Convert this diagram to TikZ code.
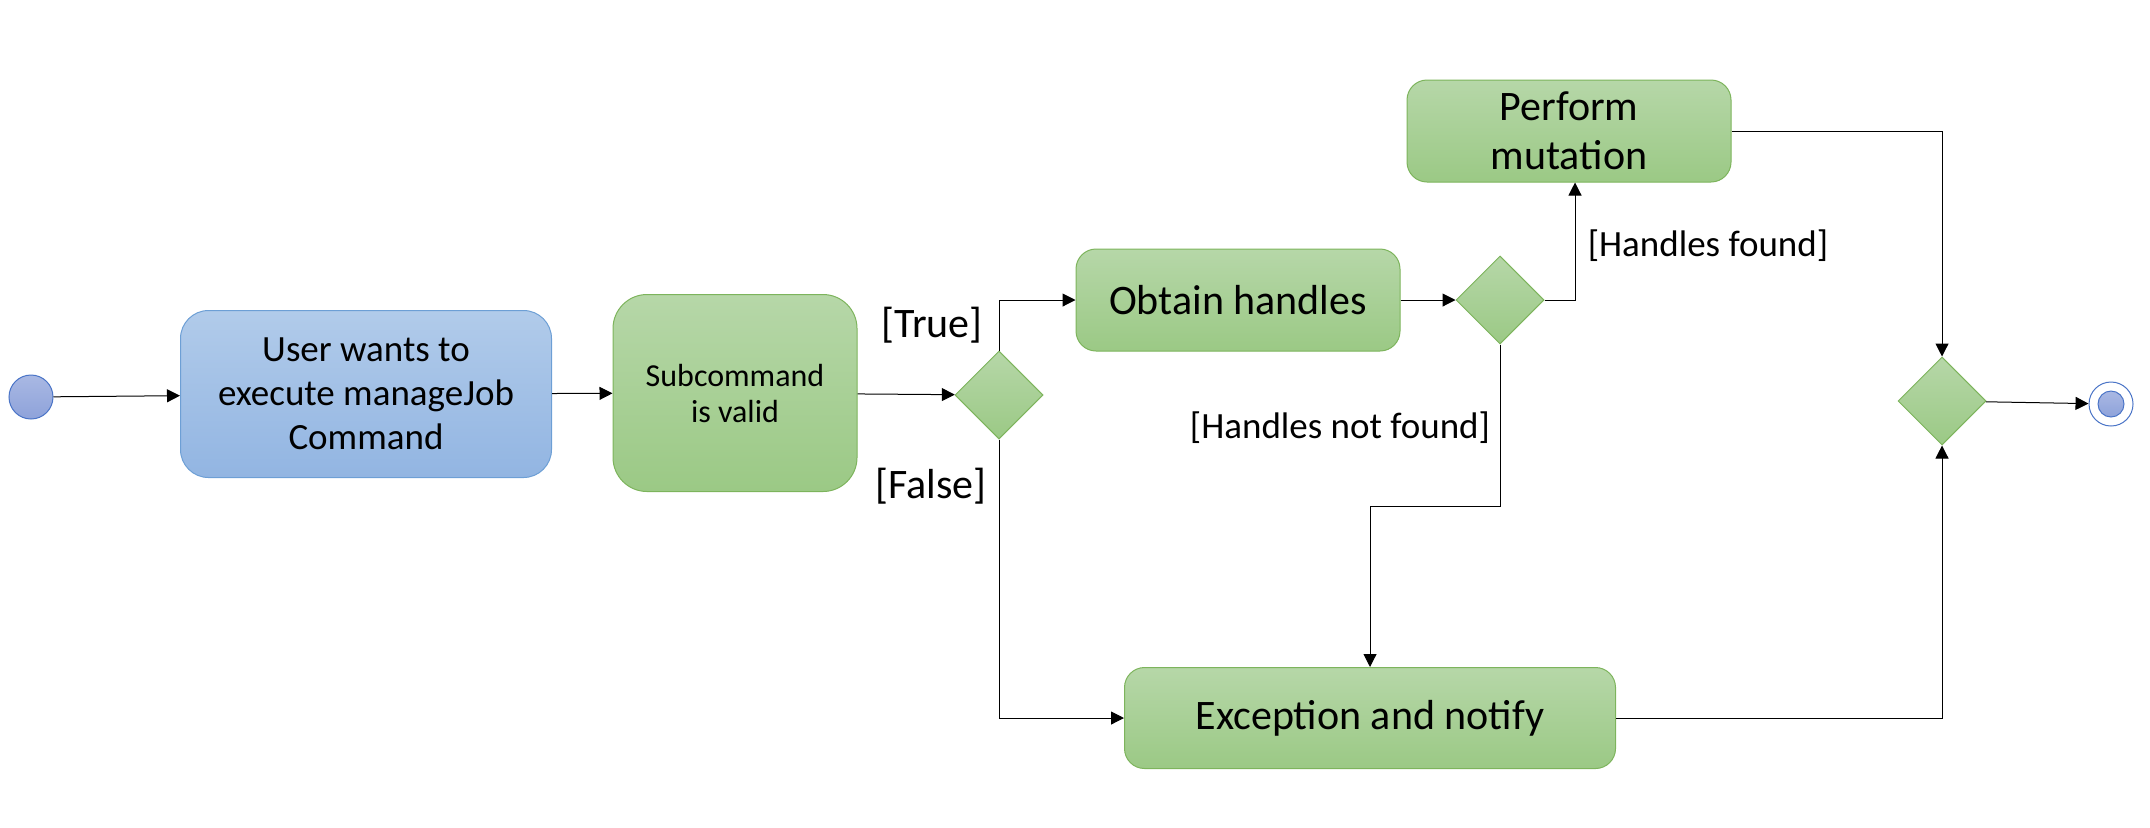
\documentclass[tikz,border=0pt]{standalone}
\usepackage{fontspec}
\setmainfont{Carlito}
\usetikzlibrary{arrows.meta,shapes.geometric}
\definecolor{actTop}{HTML}{B6D7A8}
\definecolor{actBot}{HTML}{9BC985}
\definecolor{actLine}{HTML}{7DB45C}
\definecolor{userTop}{HTML}{B1CBEA}
\definecolor{userBot}{HTML}{92B5E2}
\definecolor{userLine}{HTML}{6D9FD5}
\definecolor{dotTop}{HTML}{A9B8E3}
\definecolor{dotBot}{HTML}{8EA2DA}
\definecolor{dotLine}{HTML}{4A74C7}
\begin{document}
\begin{tikzpicture}[x=0.5pt, y=-0.5pt, line width=0.5pt, >={Triangle[length=6.5pt,width=6.5pt]},
    act/.style={draw=actLine, top color=actTop, bottom color=actBot, rounded corners=10pt,
      align=center, inner sep=0pt, font=\fontsize{21}{24.5}\selectfont},
    choice/.style={diamond, aspect=1, minimum width=44pt, minimum height=44pt, inner sep=0pt,
      draw=actLine, top color=actTop, bottom color=actBot},
    guard/.style={inner sep=0pt, font=\fontsize{18.5}{22}\selectfont}]
  \useasboundingbox (0,0) rectangle (2150,827);
  % start and end points
  \node[circle, minimum size=22pt, inner sep=0pt, draw=dotLine, top color=dotTop, bottom color=dotBot] (start) at (31,397) {};
  \node[circle, minimum size=22pt, inner sep=0pt, draw=dotLine, fill=white] (finish) at (2111,404) {};
  \node[circle, minimum size=13pt, inner sep=0pt, draw=dotLine, top color=dotTop, bottom color=dotBot] (finishdot) at (finish) {};
  % actions
  \node[act, draw=userLine, top color=userTop, bottom color=userBot, rounded corners=14pt,
    minimum width=185.5pt, minimum height=83.5pt, font=\fontsize{18.5}{22}\selectfont] (user) at (366,394)
    {User wants to\\execute manageJob\\Command};
  \node[act, rounded corners=17pt, minimum width=122pt, minimum height=98.5pt,
    font=\fontsize{16}{18}\selectfont] (valid) at (735,393) {Subcommand\\is valid};
  \node[act, minimum width=162pt, minimum height=51pt] (obtain) at (1238,300) {Obtain handles};
  \node[act, minimum width=162pt, minimum height=51pt] (mutate) at (1569,131) {Perform\\mutation};
  \node[act, minimum width=245.5pt, minimum height=50.5pt] (except) at (1370,718) {Exception and notify};
  % decisions
  \node[choice] (d1) at (999,395) {};
  \node[choice] (d2) at (1500,300) {};
  \node[choice] (d3) at (1942,401) {};
  % guards
  \node[guard, font=\fontsize{21}{24}\selectfont] (gtrue) at (932,325) {[True]};
  \node[guard, font=\fontsize{21}{24}\selectfont] (gfalse) at (931,486) {[False]};
  \node[guard] (gfound) at (1708,246) {[Handles found]};
  \node[guard] (gnotfound) at (1340,428) {[Handles not found]};
  % flow
  \draw[->] (start) -- (user);
  \draw[->] (user) -- (valid);
  \draw[->] (valid) -- (d1);
  \draw[->] (d1.north) |- (obtain.west);
  \draw[->] (d1.south) |- (except.west);
  \draw[->] (obtain) -- (d2);
  \draw[->] (d2.east) -| ([xshift=3pt]mutate.south);
  \draw[->] (d2.south) -- ++(0,162) -| (except.north);
  \draw[->] (mutate.east) -| (d3.north);
  \draw[->] (except.east) -| (d3.south);
  \draw[->] (d3) -- (finish);
\end{tikzpicture}
\end{document}
